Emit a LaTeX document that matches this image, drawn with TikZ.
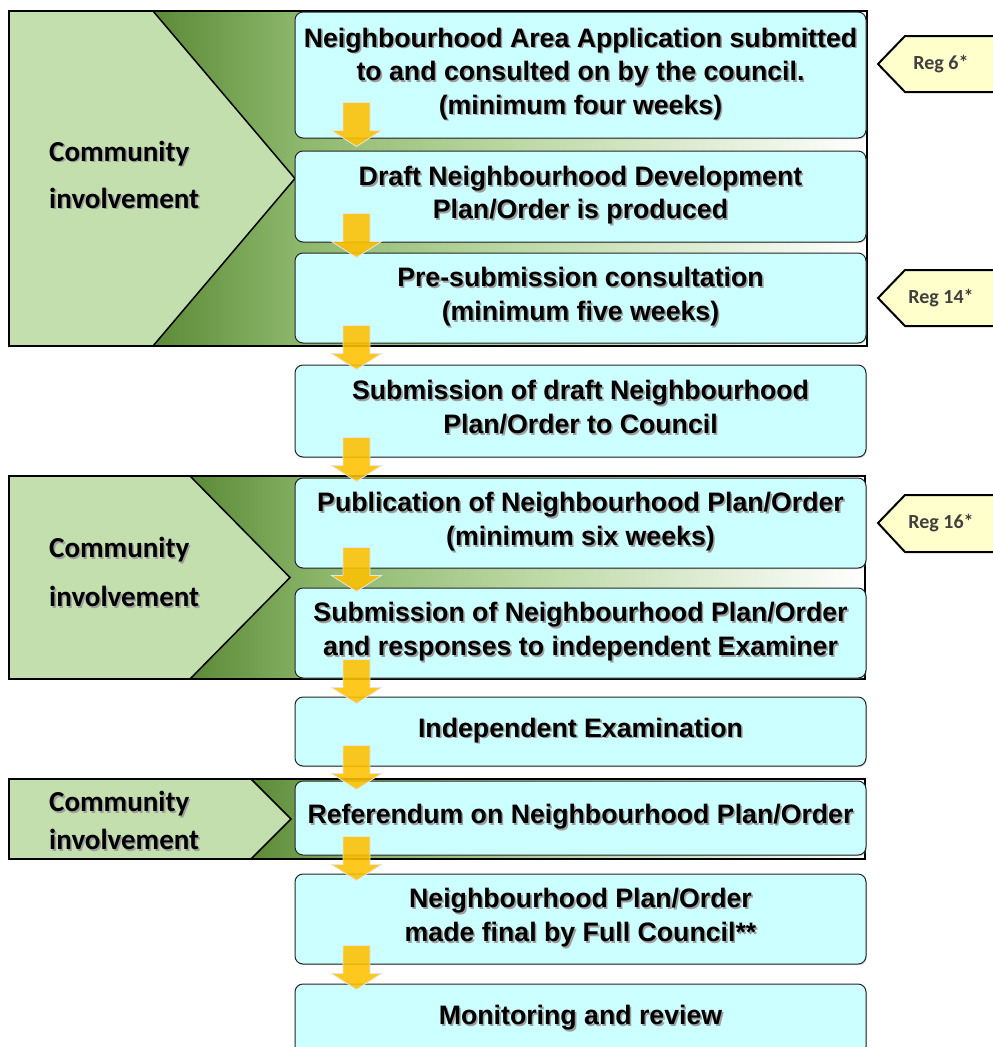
\documentclass[tikz,border=0pt]{standalone}
\usepackage{fontspec}
\setmainfont{Liberation Sans}
\newfontfamily\calibfont{Carlito}
\usetikzlibrary{calc,shadows}

\definecolor{boxcyan}{HTML}{CCFFFF}
\definecolor{boxline}{HTML}{262626}
\definecolor{leafgreen}{HTML}{C4DFAE}
\definecolor{bandA}{HTML}{5B8A37}
\definecolor{bandB}{HTML}{8CB76B}
\definecolor{bandC}{HTML}{BBD8A3}
\definecolor{regfill}{HTML}{FFFFCC}
\definecolor{regtext}{HTML}{404040}
\definecolor{arrowgold}{HTML}{FFC000}

% green band behind each community section, fading to white on the right
\pgfdeclarehorizontalshading{bandfade}{100bp}{color(0bp)=(bandA); color(25bp)=(bandA);
  color(35bp)=(bandB); color(50bp)=(bandC); color(75bp)=(white); color(100bp)=(white)}

% bold text with a soft grey drop shadow
\newcommand\shadowed[1]{\makebox[0pt][l]{\hspace{1.6pt}\raisebox{-1.6pt}{\color{black!38}#1}}#1}
% one line of step text: a strut keeps the capitals centred in the box
\newcommand\stepline[1]{\rule[-8pt]{0pt}{27.1pt}\shadowed{#1}}

% downward block arrow whose tip is at #2
\newcommand\blockarrowat[2]{%
  \coordinate (#1) at (#2);
  \path[flowarrow] (#1) -- ++(-25,-16) -- ++(11.5,0) -- ++(0,-28) -- ++(27,0)
    -- ++(0,28) -- ++(11.5,0) -- cycle;}

\tikzset{
  stepbox/.style={draw=boxline, line width=1pt, fill=boxcyan, rounded corners=8pt,
    drop shadow={shadow xshift=0.8pt, shadow yshift=-1.2pt, opacity=0.35},
    minimum width=571, inner sep=0pt, align=center,
    font=\bfseries\fontsize{26.7}{33.5}\selectfont},
  leaf/.style={fill=leafgreen, draw=black, line width=1.5pt, line join=miter},
  frame/.style={draw=black, line width=2pt},
  commtext/.style={anchor=west, inner sep=0pt, align=left,
    font=\calibfont\bfseries\fontsize{29}{47}\selectfont},
  regtag/.style={fill=regfill, draw=black, line width=2pt},
  regtext/.style={text=regtext, inner sep=0pt, font=\calibfont\bfseries\fontsize{20}{24}\selectfont},
  flowarrow/.style={fill=arrowgold, fill opacity=0.88, draw=white!80!gray, line width=0.8pt}
}

\begin{document}
\begin{tikzpicture}[x=1pt, y=-1pt]
\useasboundingbox (0,0) rectangle (993,1047);
\clip (0,0) rectangle (993,1047);

% ---- community involvement sections ----
\shade[shading=bandfade] (153,11) rectangle (867,346);
\path[leaf] (9,11) -- (153,11) -- (295,178.5) -- (153,346) -- (9,346) -- cycle;
\path[frame] (9,11) rectangle (867,346);

\shade[shading=bandfade] (190,476) rectangle (865,679);
\path[leaf] (9,476) -- (190,476) -- (290,577.5) -- (190,679) -- (9,679) -- cycle;
\path[frame] (9,476) rectangle (865,679);

\shade[shading=bandfade] (251,779) rectangle (865,859);
\path[leaf] (9,779) -- (251,779) -- (291,819) -- (251,859) -- (9,859) -- cycle;
\path[frame] (9,779) rectangle (865,859);

\node[commtext] (c1) at (49,175.5) {\shadowed{Community}\\\shadowed{involvement}};
\node[commtext, font=\calibfont\bfseries\fontsize{29}{49}\selectfont] (c2) at (49,573)
  {\shadowed{Community}\\\shadowed{involvement}};
\node[commtext, font=\calibfont\bfseries\fontsize{29}{38}\selectfont] (c3) at (49,821.5)
  {\shadowed{Community}\\\shadowed{involvement}};

% ---- process steps ----
\node[stepbox, minimum height=126] (b1) at (580.5,75)
  {\stepline{Neighbourhood Area Application submitted}\\
   \stepline{to and consulted on by the council.}\\
   \stepline{(minimum four weeks)}};
\node[stepbox, minimum height=91] (b2) at (580.5,196.5)
  {\stepline{Draft Neighbourhood Development}\\\stepline{Plan/Order is produced}};
\node[stepbox, minimum height=90] (b3) at (580.5,298)
  {\stepline{Pre-submission consultation}\\\stepline{(minimum five weeks)}};
\node[stepbox, minimum height=92] (b4) at (580.5,411)
  {\stepline{Submission of draft Neighbourhood}\\\stepline{Plan/Order to Council}};
\node[stepbox, minimum height=90] (b5) at (580.5,523)
  {\stepline{Publication of Neighbourhood Plan/Order}\\\stepline{(minimum six weeks)}};
\node[stepbox, minimum height=90] (b6) at (580.5,633)
  {\stepline{Submission of Neighbourhood Plan/Order}\\\stepline{and responses to independent Examiner}};
\node[stepbox, minimum height=69] (b7) at (580.5,731.5)
  {\stepline{Independent Examination}};
\node[stepbox, minimum height=74] (b8) at (580.5,818)
  {\stepline{Referendum on Neighbourhood Plan/Order}};
\node[stepbox, minimum height=90] (b9) at (580.5,919)
  {\stepline{Neighbourhood Plan/Order}\\\stepline{made final by Full Council**}};
\node[stepbox, minimum height=70] (b10) at (580.5,1019)
  {\stepline{Monitoring and review}};

% ---- arrows between steps ----
\blockarrowat{a1}{$(b2.north west)+(62,-4)$}
\blockarrowat{a2}{$(b3.north west)+(62,5)$}
\blockarrowat{a3}{$(b4.north west)+(62,5)$}
\blockarrowat{a4}{$(b5.north west)+(62,4)$}
\blockarrowat{a5}{$(b6.north west)+(62,4)$}
\blockarrowat{a6}{$(b7.north west)+(62,7)$}
\blockarrowat{a7}{$(b8.north west)+(62,9)$}
\blockarrowat{a8}{$(b9.north west)+(62,7)$}
\blockarrowat{a9}{$(b10.north west)+(62,6)$}

% ---- regulation tags ----
\path[regtag] (878,64) -- (905,36) -- (998,36) -- (998,92) -- (905,92) -- cycle;
\node[regtext] (r6) at (941,64) {Reg 6*};
\path[regtag] (878,298) -- (905,270) -- (998,270) -- (998,326) -- (905,326) -- cycle;
\node[regtext] (r14) at (941,298) {Reg 14*};
\path[regtag] (878,523) -- (905,495) -- (998,495) -- (998,552) -- (905,552) -- cycle;
\node[regtext] (r16) at (941,523) {Reg 16*};
\end{tikzpicture}
\end{document}
